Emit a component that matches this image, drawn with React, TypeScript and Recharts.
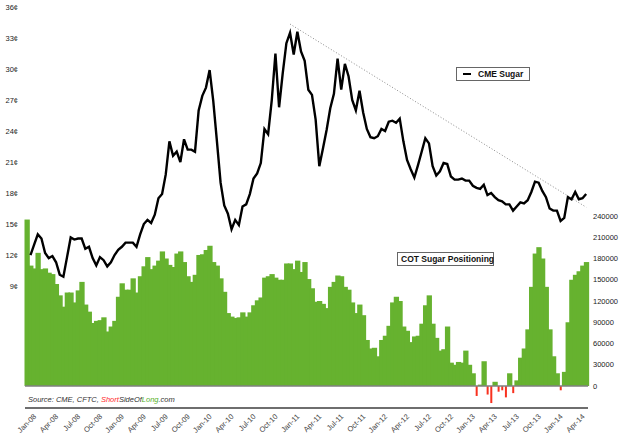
import {
  Bar,
  ComposedChart,
  Line,
  ReferenceLine,
  XAxis,
  YAxis,
} from "recharts";

// Semi-monthly observations, Jan 2008 .. end of May 2014 (154 points).
const MONTHS = ["Jan", "Feb", "Mar", "Apr", "May", "Jun", "Jul", "Aug", "Sep", "Oct", "Nov", "Dec"];
const PERIODS: string[] = [];
for (let y = 2008; y <= 2014; y++) {
  for (let m = 0; m < 12; m++) {
    if (PERIODS.length >= 154) break;
    const lbl = `${MONTHS[m]}-${String(y).slice(2)}`;
    PERIODS.push(lbl, `${lbl} mid`);
  }
}

const QUARTER_TICKS = [
  "Jan-08", "Apr-08", "Jul-08", "Oct-08",
  "Jan-09", "Apr-09", "Jul-09", "Oct-09",
  "Jan-10", "Apr-10", "Jul-10", "Oct-10",
  "Jan-11", "Apr-11", "Jul-11", "Oct-11",
  "Jan-12", "Apr-12", "Jul-12", "Oct-12",
  "Jan-13", "Apr-13", "Jul-13", "Oct-13",
  "Jan-14", "Apr-14",
];

// CME sugar #11, cents / lb
const SUGAR_PRICE: (number | null)[] = [
  null, 12.0, 13.0, 14.0, 13.6, 12.2, 11.7, 11.9, 11.3, 10.1,
  9.9, 11.8, 13.7, 13.5, 13.6, 13.6, 12.6, 12.8, 11.7, 11.0,
  11.8, 11.5, 10.9, 11.3, 12.0, 12.5, 12.8, 13.2, 13.2, 13.2,
  12.8, 14.0, 15.0, 15.4, 15.1, 15.9, 17.5, 17.9, 19.8, 23.0,
  21.6, 22.0, 21.0, 23.2, 22.2, 22.2, 22.0, 26.0, 27.4, 28.2,
  29.9, 26.9, 23.0, 19.0, 16.8, 16.0, 14.5, 15.4, 14.9, 16.7,
  16.9, 17.9, 19.4, 19.9, 20.9, 24.2, 23.7, 27.0, 31.5, 26.3,
  29.6, 32.5, 33.5, 31.4, 33.6, 31.7, 30.8, 28.0, 27.5, 25.1,
  20.6, 22.3, 24.1, 26.2, 27.6, 31.0, 28.0, 30.5, 29.3, 27.0,
  26.0, 27.9, 25.8, 24.2, 23.4, 23.3, 23.5, 24.2, 24.0, 24.9,
  25.0, 24.8, 25.2, 23.0, 21.2, 20.3, 19.5, 20.7, 22.0, 23.3,
  22.8, 20.6, 19.7, 20.1, 20.9, 20.8, 19.6, 19.3, 19.3, 19.4,
  19.2, 19.2, 18.7, 18.5, 18.4, 18.8, 17.8, 18.0, 17.6, 17.3,
  17.2, 16.9, 16.9, 16.3, 16.7, 17.1, 17.0, 17.3, 18.1, 19.1,
  19.0, 18.2, 17.6, 16.5, 16.3, 16.3, 15.3, 15.6, 17.6, 17.4,
  18.1, 17.4, 17.5, 17.9,
];

// CFTC net speculative position, thousands of contracts
const COT_NET_K = [
  235, 170, 166, 188, 165, 166, 160, 158, 144, 128,
  112, 132, 132, 118, 135, 147, 115, 105, 89, 92,
  93, 97, 77, 84, 92, 126, 145, 136, 136, 152,
  132, 155, 169, 182, 165, 170, 177, 190, 180, 171,
  168, 187, 190, 175, 155, 147, 157, 185, 186, 192,
  198, 175, 170, 152, 133, 103, 98, 96, 97, 104,
  98, 104, 114, 121, 125, 153, 155, 158, 153, 150,
  150, 173, 173, 165, 177, 161, 175, 151, 138, 119,
  120, 116, 110, 140, 147, 156, 155, 140, 136, 118,
  103, 115, 100, 65, 53, 54, 42, 65, 71, 85,
  118, 126, 120, 84, 78, 62, 70, 71, 88, 114,
  128, 88, 68, 50, 52, 84, 33, 30, 34, 33,
  50, 30, 18, -14, 2, 35, -12, -24, 6, -8,
  -6, -16, 18, -10, 8, 40, 53, 80, 140, 187,
  196, 180, 140, 80, 42, 18, -6, 20, 90, 150,
  157, 162, 170, 175,
];

const PRICE_TICKS = [9, 12, 15, 18, 21, 24, 27, 30, 33, 36];
const COT_TICKS = [0, 30000, 60000, 90000, 120000, 150000, 180000, 210000, 240000];

// dotted resistance line from the 2011 high
const TREND = [
  { x: "Jan-11", y: 34.35 },
  { x: "May-14 mid", y: 16.63 },
];

const GREEN = "#66b22f";
const RED = "#f8311f";
const FONT = "'Liberation Sans', Arial, sans-serif";

const data = PERIODS.map((p, i) => ({
  period: p,
  price: SUGAR_PRICE[i],
  cot: COT_NET_K[i] * 1000,
}));

// bars butt against each other like an area; short positions drawn as thin red spikes
const CotBar = (props: any) => {
  const { x, y, width, height, payload } = props;
  if (height == null || width == null) return null;
  const top = Math.min(y, y + height);
  const h = Math.abs(height);
  if (payload.cot < 0) {
    const cx = x + width / 2;
    return <rect x={cx - 1} y={top} width={2} height={h} fill={RED} />;
  }
  return <rect x={x - 0.5} y={top} width={width + 1.3} height={h} fill={GREEN} />;
};

const XTick = ({ x, y, payload }: any) => (
  <g transform={`translate(${x + 10},${y + 9})`}>
    <text transform="rotate(-45)" textAnchor="end" fontSize={7.5} fill="#444" fontFamily={FONT}>
      {payload.value}
    </text>
  </g>
);

export default function App() {
  return (
    <div style={{ position: "absolute", left: 0, top: 0, width: 625, height: 438, background: "#fff", fontFamily: FONT }}>
      <ComposedChart
        width={625}
        height={438}
        data={data}
        margin={{ top: 7, right: 0, bottom: 0, left: 0 }}
        barCategoryGap={0}
        barGap={0}
      >
        <XAxis
          dataKey="period"
          ticks={QUARTER_TICKS}
          interval={0}
          height={30}
          tickLine={false}
          tickSize={0}
          tickMargin={0}
          axisLine={{ stroke: "#6e6e6e", strokeWidth: 2 }}
          tick={<XTick />}
        />
        <YAxis
          yAxisId="price"
          orientation="left"
          width={25}
          domain={[-2.8, 36]}
          ticks={PRICE_TICKS}
          allowDataOverflow
          axisLine={false}
          tickLine={false}
          tickSize={0}
          tickMargin={7}
          tickFormatter={(v: number) => `${v}¢`}
          tick={{ fontSize: 7.5, fill: "#222", fontFamily: FONT }}
        />
        <YAxis
          yAxisId="cot"
          orientation="right"
          width={37}
          domain={[-31000, 535000]}
          ticks={COT_TICKS}
          allowDataOverflow
          axisLine={false}
          tickLine={false}
          tickSize={0}
          tickMargin={5}
          tick={{ fontSize: 7.5, fill: "#222", fontFamily: FONT, textAnchor: "start" }}
        />
        <Bar yAxisId="cot" dataKey="cot" isAnimationActive={false} shape={<CotBar />} />
        <ReferenceLine yAxisId="cot" y={0} stroke="#808080" strokeWidth={1.5} />
        <ReferenceLine
          yAxisId="price"
          segment={TREND}
          stroke="#8a8a8a"
          strokeWidth={1}
          strokeDasharray="1 2"
        />
        <Line
          yAxisId="price"
          type="linear"
          dataKey="price"
          stroke="#000"
          strokeWidth={2.4}
          dot={false}
          isAnimationActive={false}
        />
      </ComposedChart>

      {/* legend box for the price line */}
      <div
        style={{
          position: "absolute", left: 456, top: 67, width: 74, height: 14, boxSizing: "border-box",
          border: "1px solid #666", background: "#fff", display: "flex", alignItems: "center",
          fontSize: 8.5, fontWeight: "bold", color: "#111",
        }}
      >
        <span style={{ display: "inline-block", width: 8, height: 2, background: "#000", margin: "0 7px 0 6px" }} />
        CME Sugar
      </div>

      <div
        style={{
          position: "absolute", left: 397, top: 252, width: 97, height: 14, boxSizing: "border-box",
          border: "1px solid #666", background: "#fff", display: "flex", alignItems: "center",
          paddingLeft: 3, fontSize: 8.5, fontWeight: "bold", color: "#111", whiteSpace: "nowrap",
        }}
      >
        COT Sugar Positioning
      </div>

      <div
        style={{
          position: "absolute", left: 28, top: 395, fontSize: 7.5, fontStyle: "italic",
          color: "#333", whiteSpace: "nowrap", lineHeight: "10px",
        }}
      >
        Source: CME, CFTC, <span style={{ color: "#ff2b2b" }}>Short</span>SideOf
        <span style={{ color: "#55b028" }}>Long</span>.com
      </div>
    </div>
  );
}
